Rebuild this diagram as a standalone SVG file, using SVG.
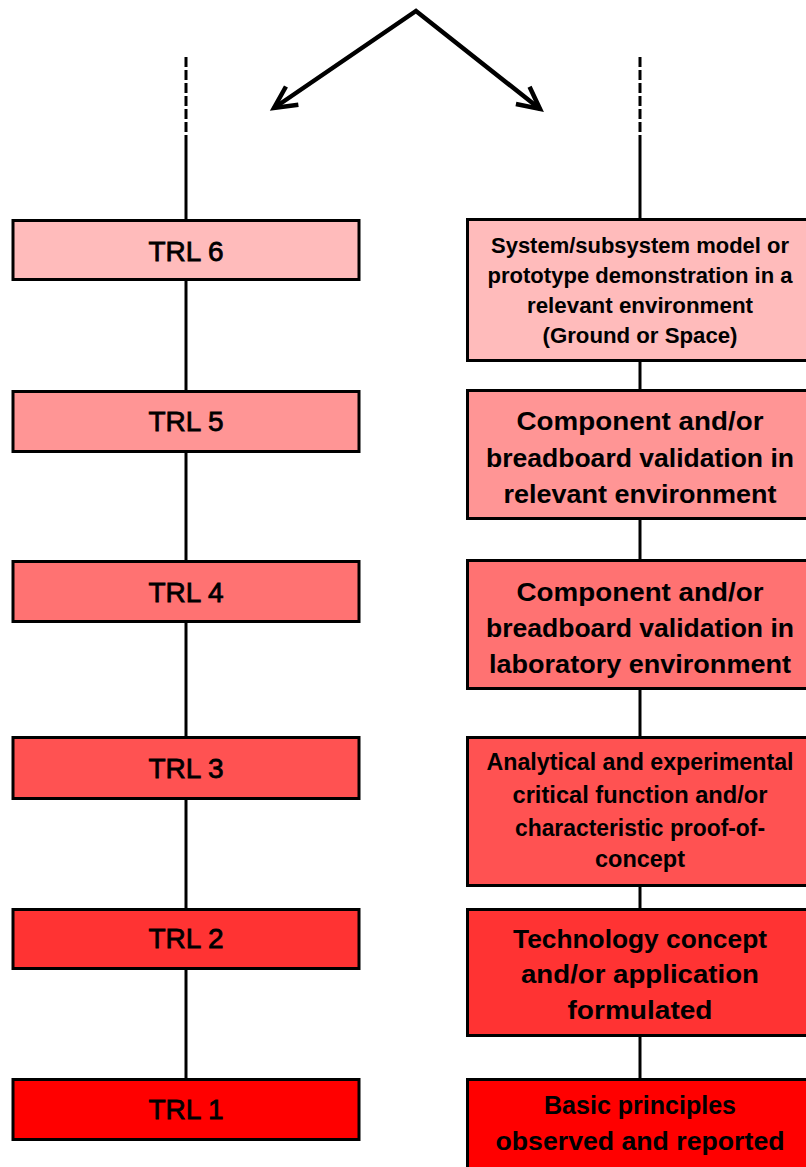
<svg xmlns="http://www.w3.org/2000/svg" width="806" height="1167" viewBox="0 0 806 1167">
  <style>
    .box { stroke: #000; stroke-width: 3; }
    .lvl6 { fill: #FFBBBB; }
    .lvl5 { fill: #FF9595; }
    .lvl4 { fill: #FF7272; }
    .lvl3 { fill: #FF5252; }
    .lvl2 { fill: #FF3333; }
    .lvl1 { fill: #FF0000; }
    .trl { font-family: "Liberation Sans", Arial, sans-serif; font-size: 28px; fill: #000; stroke: #000; stroke-width: 0.8px; text-anchor: middle; }
    .desc { font-family: "Liberation Sans", Arial, sans-serif; font-weight: bold; font-size: 26px; fill: #000; text-anchor: middle; }
    .desc.small { font-size: 22px; }
    .desc.mid { font-size: 23px; }
    .wire { stroke: #000; stroke-width: 3; fill: none; }
    .dash { stroke-dasharray: 10 3; }
    .arrow { stroke: #000; stroke-width: 4.5; fill: none; stroke-linejoin: miter; }
  </style>
  <defs>
    <marker id="chevron" markerUnits="userSpaceOnUse" markerWidth="28" markerHeight="28" viewBox="0 0 28 28" refX="24" refY="14" orient="auto-start-reverse" overflow="visible">
      <path d="M2,3 L24,14 L2,25" fill="none" stroke="#000" stroke-width="4.5" stroke-linejoin="miter"/>
    </marker>
  </defs>

  <rect width="806" height="1167" fill="#fff"/>

  <!-- connectors -->
  <g id="connectors">
    <path class="arrow" d="M274,108 L416,11 L540,109" marker-start="url(#chevron)" marker-end="url(#chevron)"/>
    <!-- left spine -->
    <line class="wire dash" x1="186" y1="57" x2="186" y2="135"/>
    <line class="wire" x1="186" y1="135" x2="186" y2="220"/>
    <line class="wire" x1="186" y1="280" x2="186" y2="391"/>
    <line class="wire" x1="186" y1="452" x2="186" y2="561"/>
    <line class="wire" x1="186" y1="622" x2="186" y2="737"/>
    <line class="wire" x1="186" y1="799" x2="186" y2="909"/>
    <line class="wire" x1="186" y1="969" x2="186" y2="1079"/>
    <!-- right spine -->
    <line class="wire dash" x1="640" y1="57" x2="640" y2="135"/>
    <line class="wire" x1="640" y1="135" x2="640" y2="219"/>
    <line class="wire" x1="640" y1="361" x2="640" y2="390"/>
    <line class="wire" x1="640" y1="519" x2="640" y2="560"/>
    <line class="wire" x1="640" y1="689" x2="640" y2="737"/>
    <line class="wire" x1="640" y1="886" x2="640" y2="909"/>
    <line class="wire" x1="640" y1="1036" x2="640" y2="1079"/>
  </g>

  <!-- level boxes -->
  <g id="trl6">
    <rect class="box lvl6" x="13" y="220.5" width="346" height="59"/>
    <text class="trl" x="186" y="261">TRL 6</text>
  </g>
  <g id="trl5">
    <rect class="box lvl5" x="13" y="391.5" width="346" height="60"/>
    <text class="trl" x="186" y="431">TRL 5</text>
  </g>
  <g id="trl4">
    <rect class="box lvl4" x="13" y="561.5" width="346" height="60"/>
    <text class="trl" x="186" y="602">TRL 4</text>
  </g>
  <g id="trl3">
    <rect class="box lvl3" x="13" y="737.5" width="346" height="61"/>
    <text class="trl" x="186" y="778">TRL 3</text>
  </g>
  <g id="trl2">
    <rect class="box lvl2" x="13" y="909.5" width="346" height="59"/>
    <text class="trl" x="186" y="948">TRL 2</text>
  </g>
  <g id="trl1">
    <rect class="box lvl1" x="13" y="1079.5" width="346" height="60"/>
    <text class="trl" x="186" y="1119">TRL 1</text>
  </g>

  <!-- description boxes -->
  <g id="desc6">
    <rect class="box lvl6" x="467.5" y="219.5" width="345" height="141"/>
    <text class="desc small" x="640" y="253" textLength="298" lengthAdjust="spacingAndGlyphs">System/subsystem model or</text>
    <text class="desc small" x="640" y="283" textLength="305" lengthAdjust="spacingAndGlyphs">prototype demonstration in a</text>
    <text class="desc small" x="640" y="313" textLength="226" lengthAdjust="spacingAndGlyphs">relevant environment</text>
    <text class="desc small" x="640" y="343" textLength="195" lengthAdjust="spacingAndGlyphs">(Ground or Space)</text>
  </g>
  <g id="desc5">
    <rect class="box lvl5" x="467.5" y="390.5" width="345" height="128"/>
    <text class="desc" x="640" y="430" textLength="247" lengthAdjust="spacingAndGlyphs">Component and/or</text>
    <text class="desc" x="640" y="467" textLength="308" lengthAdjust="spacingAndGlyphs">breadboard validation in</text>
    <text class="desc" x="640" y="503" textLength="273" lengthAdjust="spacingAndGlyphs">relevant environment</text>
  </g>
  <g id="desc4">
    <rect class="box lvl4" x="467.5" y="560.5" width="345" height="128"/>
    <text class="desc" x="640" y="601" textLength="247" lengthAdjust="spacingAndGlyphs">Component and/or</text>
    <text class="desc" x="640" y="637" textLength="308" lengthAdjust="spacingAndGlyphs">breadboard validation in</text>
    <text class="desc" x="640" y="673" textLength="302" lengthAdjust="spacingAndGlyphs">laboratory environment</text>
  </g>
  <g id="desc3">
    <rect class="box lvl3" x="467.5" y="737.5" width="345" height="148"/>
    <text class="desc mid" x="640" y="770" textLength="307" lengthAdjust="spacingAndGlyphs">Analytical and experimental</text>
    <text class="desc mid" x="640" y="803" textLength="255" lengthAdjust="spacingAndGlyphs">critical function and/or</text>
    <text class="desc mid" x="640" y="836" textLength="250" lengthAdjust="spacingAndGlyphs">characteristic proof-of-</text>
    <text class="desc mid" x="640" y="867" textLength="90" lengthAdjust="spacingAndGlyphs">concept</text>
  </g>
  <g id="desc2">
    <rect class="box lvl2" x="467.5" y="909.5" width="345" height="126"/>
    <text class="desc" x="640" y="948" textLength="254" lengthAdjust="spacingAndGlyphs">Technology concept</text>
    <text class="desc" x="640" y="983" textLength="238" lengthAdjust="spacingAndGlyphs">and/or application</text>
    <text class="desc" x="640" y="1019" textLength="145" lengthAdjust="spacingAndGlyphs">formulated</text>
  </g>
  <g id="desc1">
    <rect class="box lvl1" x="467.5" y="1079.5" width="345" height="100"/>
    <text class="desc" x="640" y="1114" textLength="192" lengthAdjust="spacingAndGlyphs">Basic principles</text>
    <text class="desc" x="640" y="1150" textLength="289" lengthAdjust="spacingAndGlyphs">observed and reported</text>
  </g>
</svg>
